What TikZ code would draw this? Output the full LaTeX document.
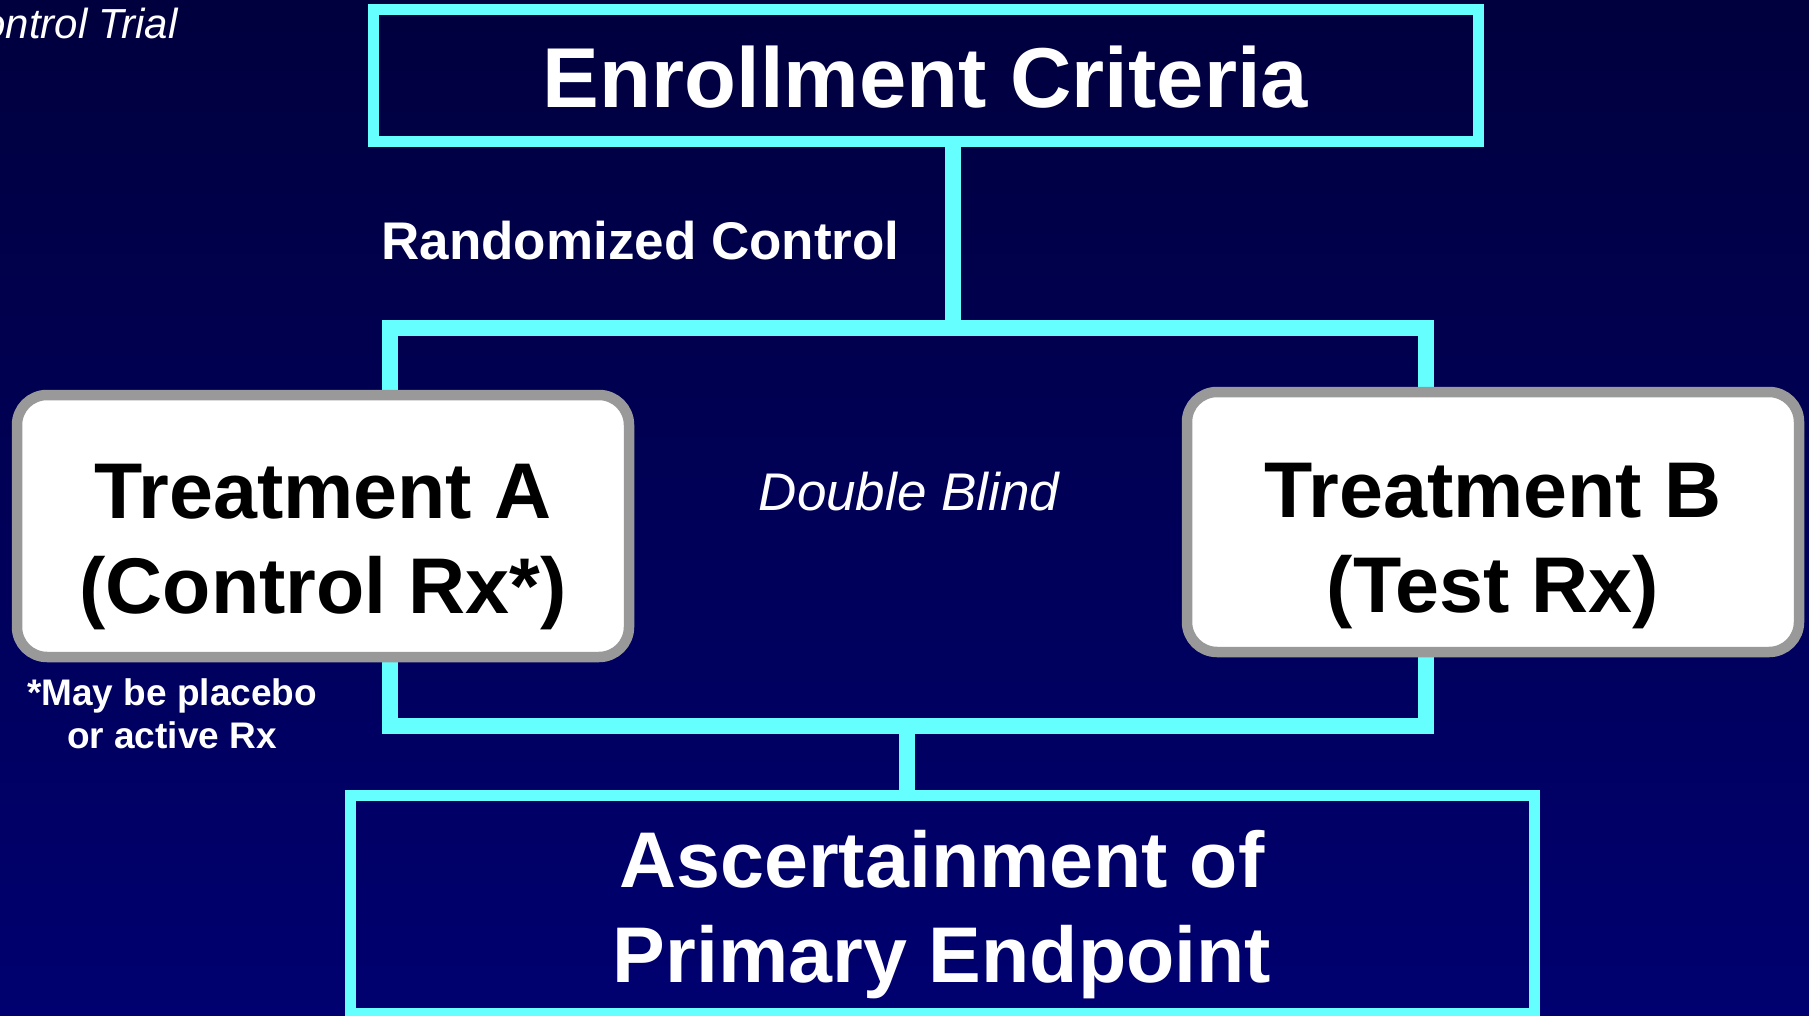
\documentclass[tikz,border=0pt]{standalone}
\usepackage{fontspec}
\setmainfont{Liberation Sans}
\definecolor{wirecyan}{RGB}{102,255,255}
\definecolor{boxgray}{RGB}{153,153,153}
\definecolor{navytop}{RGB}{0,0,62}
\definecolor{navybot}{RGB}{0,0,112}
\pgfdeclarelayer{bg}
\pgfdeclarelayer{wires}
\pgfsetlayers{bg,wires,main}

\begin{document}
\begin{tikzpicture}[x=0.5pt,y=-0.5pt,
    frame/.style={draw=wirecyan,line width=5.5pt,text=white,align=center,inner sep=0pt},
    choice/.style={draw=boxgray,fill=white,line width=5.25pt,rounded corners=15pt,align=center,
      minimum width=306pt,inner sep=0pt,font=\fontsize{39.5}{47.5}\selectfont\bfseries,text depth=0pt},
    wire/.style={draw=wirecyan,line width=8pt},
    caption/.style={text=white,inner sep=0pt}]

	\useasboundingbox (0,0) rectangle (1809,1016);
	\begin{pgfonlayer}{bg}
		\shade[top color=navytop,bottom color=navybot] (0,0) rectangle (1809,1016);
	\end{pgfonlayer}

	% boxes
	\node[frame,minimum width=552.5pt,minimum height=66pt,text height=32pt,text depth=0pt,
	      font=\fontsize{42.5}{50}\selectfont\bfseries] (ec) at (925.5,76) {Enrollment Criteria};
	\node[choice,minimum height=131pt,text height=87pt] (tA) at (323,526) {Treatment A\\(Control Rx*)};
	\node[choice,minimum height=130pt,text height=90pt] (tB) at (1493,522) {Treatment B\\(Test Rx)};
	\node[frame,minimum width=592pt,minimum height=109pt,text height=78pt,text depth=0pt,
	      font=\fontsize{39.5}{47.5}\selectfont\bfseries] (ep) at (942,904) {Ascertainment of\\Primary Endpoint};

	% labels
	\node[caption,anchor=base east,font=\fontsize{21}{25}\selectfont\itshape] (title) at (178,39) {Control Trial};
	\node[caption,anchor=base west,font=\fontsize{26.5}{30}\selectfont\bfseries] (rand) at (381,260) {Randomized Control};
	\node[caption,anchor=base,font=\fontsize{26.5}{30}\selectfont\itshape] (blind) at (909,510) {Double Blind};
	\node[caption,anchor=base,align=center,font=\fontsize{18.5}{21.5}\selectfont\bfseries] (note) at (172,748) {*May be placebo\\or active Rx};

	% branch points
	\coordinate (split) at (953,328);
	\coordinate (armA) at (390,328);
	\coordinate (armB) at (1426,328);
	\coordinate (join) at (907,726);

	\begin{pgfonlayer}{wires}
		\draw[wire] (ec.south -| split) -- (split);
		\draw[wire] (armA |- tA.north) -- (armA) -- (armB) -- (armB |- tB.north);
		\draw[wire] (armA |- tA.south) -- (armA |- join) -- (armB |- join) -- (armB |- tB.south);
		\draw[wire] (join) -- (join |- ep.north);
	\end{pgfonlayer}

\end{tikzpicture}
\end{document}
